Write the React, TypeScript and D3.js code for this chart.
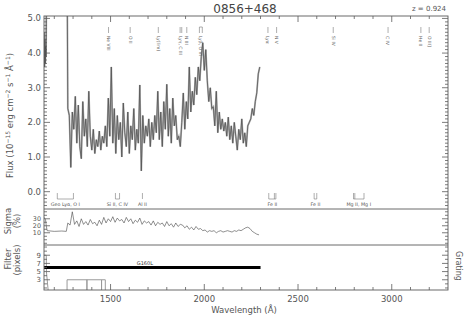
import React from "react";
import * as d3 from "d3";

// ---------- DATA ----------
const title = "0856+468";
const redshift = 0.924;

// flux before the main grid (short-wavelength edge, mostly off scale)
const fluxHeadWave = [1146, 1148, 1150, 1152, 1154, 1156, 1158, 1170, 1216, 1260, 1266];
const fluxHeadValue = [4.6, 3.6, 4.4, 3.7, 4.2, 3.9, 5.6, 30, 90, 30, 9];

// main flux grid: 1272 Å, every 8 Å
const fluxGridStart = 1272;
const fluxGridStep = 8;
const fluxValues = [
  2.4, 2.2, 0.7, 2.3, 1.8, 2.75, 1.4, 2.5, 1.3, 0.95, 2.6, 1.6, 2.1,
  1.3, 2.9,
  1.6, 1.2, 1.8, 1.1, 1.5, 1.3, 1.75, 1.2, 1.6, 1.4, 1.9, 1.3,
  2.7, 1.6, 3.6, 1.4, 2.4, 1.1, 2.2,
  1.5, 2.0, 1.0, 2.56, 1.7, 1.3, 2.3, 1.1, 1.9, 1.5, 2.4, 1.2, 1.8, 1.4, 3.08,
  0.6, 2.2, 1.4, 1.9, 1.6, 2.1, 1.3, 2.0, 1.5, 2.2, 1.7,
  2.9, 1.5, 2.3, 1.3, 2.6, 1.8, 3.1, 1.6, 2.4, 1.4, 2.7, 1.9, 2.2, 1.5,
  1.6, 1.3, 2.0,
  2.85, 1.8, 2.6, 2.1, 3.6, 2.3, 2.9, 2.5, 3.3, 2.8,
  3.6, 3.2, 3.9, 4.3, 3.5, 4.1,
  3.2, 2.6, 3.0, 2.4,
  2.45, 1.9, 2.9, 1.7, 2.3, 1.8, 2.1, 1.75, 2.0,
  1.6, 2.15, 1.5, 1.9, 1.4, 2.0, 1.6, 1.2, 1.8, 1.5, 2.1, 1.4, 1.7, 1.3, 1.9, 2.0,
  2.1, 2.4, 2.2, 2.6, 2.85, 3.4, 3.6,
];

// sigma (%)
const sigmaHeadWave = [1146, 1150, 1153, 1157, 1162, 1200, 1240, 1264];
const sigmaHeadValue = [32, 30, 29, 20, 13, 12, 12.5, 12];
const sigmaGridStart = 1272;
const sigmaGridStep = 12;
const sigmaValues = [
  24, 21, 40, 22,
  27, 19, 30, 22, 26, 21, 29, 23, 25, 20, 28, 22, 32, 24, 30, 26, 33, 25, 31, 27, 29, 24, 32, 26, 30, 23, 28, 25, 31, 22, 27, 24,
  26, 21, 27, 20, 25, 22, 24, 19, 26, 20, 23, 18, 24, 19, 22,
  21, 17, 20, 15, 18, 14, 19, 15, 16, 13,
  14, 11, 13, 12, 13, 10, 12, 13, 11, 12, 13, 12, 11, 13, 12, 14, 13, 15, 17,
  18, 16, 12, 10, 8, 7,
];

// filter width (pixels)
const filterWave = [1145, 1157, 1158, 1168, 1268, 1268, 1374, 1374, 1374, 1452, 1452, 1452, 1472, 1472];
const filterValue = [9, 9, 5, 0, 0, 3, 3, 0, 3, 3, 0, 3, 3, 0];

// grating
const gratingName = "G160L";
const gratingRange = [1145, 2300];
const gratingValue = 6;

// emission line IDs (rest wavelengths)
const emissionLabels = ["Ne VIII", "O II", "Ly(lim)", "Lyγ, C III", "N III", "Lyβ, O VI", "Lyα", "N V", "Si IV", "C IV", "He II", "O III]"];
const emissionRest = [[774], [834], [912], [972.5, 977], [991], [1026, 1034], [1216], [1240], [1397], [1549], [1640], [1663]];

// absorption line IDs (observed wavelengths)
const absorptionLabels = ["Geo Lyα, O I", "Si II, C IV", "Al II", "Fe II", "Fe II", "Mg II, Mg I"];
const absorptionWave = [[1216, 1302], [1526, 1548], [1670], [2344, 2374, 2382], [2586, 2600], [2796, 2803, 2852]];

// axis ticks
const xMajor = [1500, 2000, 2500, 3000];
const fluxMajor = [0, 1, 2, 3, 4, 5];
const sigmaMajor = [10, 20, 30];
const filterMajor = [3, 5, 7, 9];

// ---------- LAYOUT ----------
const W = 468, H = 318;
const L = 44, R = 448;
const T1 = 16, B1 = 209, B2 = 245, B3 = 290;
const axisColor = "#5a5a5a";
const textColor = "#555";
const font = "DejaVu Sans, sans-serif";

export default function App() {
  const x = d3.scaleLinear().domain([1145, 3300]).range([L, R]);
  const yF = d3.scaleLinear().domain([-0.5, 5.07]).range([B1, T1]);
  const yS = d3.scaleLinear().domain([-7.5, 44]).range([B2, B1]);
  const yP = d3.scaleLinear().domain([0.5, 11.5]).range([B3, B2]);

  const fluxWave = [...fluxHeadWave, ...fluxValues.map((_, i) => fluxGridStart + i * fluxGridStep)];
  const fluxAll = [...fluxHeadValue, ...fluxValues];
  const fluxPts: [number, number][] = fluxWave.map((w, i) => [w, fluxAll[i]]);

  const sigWave = [...sigmaHeadWave, ...sigmaValues.map((_, i) => sigmaGridStart + i * sigmaGridStep)];
  const sigAll = [...sigmaHeadValue, ...sigmaValues];
  const sigPts: [number, number][] = sigWave.map((w, i) => [w, sigAll[i]]);

  const filPts: [number, number][] = filterWave.map((w, i) => [w, filterValue[i]]);

  const lineF = d3.line<[number, number]>().x(d => x(d[0])).y(d => yF(d[1]));
  const lineS = d3.line<[number, number]>().x(d => x(d[0])).y(d => yS(d[1]));
  const lineP = d3.line<[number, number]>().x(d => x(d[0])).y(d => yP(d[1]));

  const xMinor = d3.range(1200, 3300, 100).filter(v => !xMajor.includes(v));
  const fluxMinor = d3.range(-4, 51, 1).map(v => v / 10).filter(v => !fluxMajor.includes(v));
  const sigmaMinor = d3.range(-5, 45, 5).filter(v => !sigmaMajor.includes(v));
  const filterMinor = d3.range(1, 12, 1).filter(v => !filterMajor.includes(v));

  const vTicks = (scale: any, major: number[], minor: number[], key: string) => (
    <g key={key} stroke={axisColor} strokeWidth={0.8}>
      {major.map(v => (
        <g key={"M" + v}>
          <line x1={L} x2={L + 6} y1={scale(v)} y2={scale(v)} />
          <line x1={R} x2={R - 6} y1={scale(v)} y2={scale(v)} />
        </g>
      ))}
      {minor.map(v => (
        <g key={"m" + v}>
          <line x1={L} x2={L + 3} y1={scale(v)} y2={scale(v)} />
          <line x1={R} x2={R - 3} y1={scale(v)} y2={scale(v)} />
        </g>
      ))}
    </g>
  );

  const z1 = 1 + redshift;

  return (
    <svg width={W} height={H} style={{ position: "absolute", left: 0, top: 0, background: "#fff" }} fontFamily={font}>
      <defs>
        <clipPath id="c1"><rect x={L} y={T1} width={R - L} height={B1 - T1} /></clipPath>
        <clipPath id="c2"><rect x={L} y={B1} width={R - L} height={B2 - B1} /></clipPath>
        <clipPath id="c3"><rect x={L} y={B2} width={R - L} height={B3 - B2} /></clipPath>
      </defs>

      {/* title */}
      <text x={245} y={12.5} textAnchor="middle" fontSize={12} fill="#444">{title}</text>
      <text x={446} y={11} textAnchor="end" fontSize={7} fill={textColor}>{`z  =  ${redshift.toFixed(3)}`}</text>

      {/* flux spectrum */}
      <g clipPath="url(#c1)">
        <path d={lineF(fluxPts) || ""} fill="none" stroke="#b0b0b0" strokeWidth={1.8} />
        <path d={lineF(fluxPts) || ""} fill="none" stroke="#4a4a4a" strokeWidth={0.7} />
      </g>

      {/* sigma */}
      <g clipPath="url(#c2)">
        <path d={lineS(sigPts) || ""} fill="none" stroke="#444" strokeWidth={0.6} />
      </g>

      {/* filter */}
      <g clipPath="url(#c3)">
        <path d={lineP(filPts) || ""} fill="none" stroke="#999" strokeWidth={1} />
        <line x1={x(gratingRange[0])} x2={x(gratingRange[1])} y1={yP(gratingValue)} y2={yP(gratingValue)} stroke="#000" strokeWidth={3} />
      </g>
      <text x={x(gratingRange[0]) + 109} y={yP(gratingValue) - 2.5} textAnchor="end" fontSize={5} fill="#333">{gratingName}</text>

      {/* frames */}
      <g fill="none" stroke={axisColor} strokeWidth={0.9}>
        <rect x={L} y={T1} width={R - L} height={B3 - T1} />
        <line x1={L} x2={R} y1={B1} y2={B1} />
        <line x1={L} x2={R} y1={B2} y2={B2} />
      </g>

      {/* x ticks */}
      <g stroke={axisColor} strokeWidth={0.8}>
        {xMajor.map(v => (
          <g key={"xM" + v}>
            <line x1={x(v)} x2={x(v)} y1={T1} y2={T1 + 6} />
            <line x1={x(v)} x2={x(v)} y1={B3} y2={B3 - 6} />
          </g>
        ))}
        {xMinor.map(v => (
          <g key={"xm" + v}>
            <line x1={x(v)} x2={x(v)} y1={T1} y2={T1 + 3} />
            <line x1={x(v)} x2={x(v)} y1={B3} y2={B3 - 3} />
          </g>
        ))}
      </g>
      {xMajor.map(v => (
        <text key={"xl" + v} x={x(v)} y={302} textAnchor="middle" fontSize={8.5} fill={textColor}>{v}</text>
      ))}
      <text x={244} y={313} textAnchor="middle" fontSize={8.5} fill={textColor}>Wavelength (Å)</text>

      {/* y ticks */}
      {vTicks(yF, fluxMajor, fluxMinor, "tf")}
      {vTicks(yS, sigmaMajor, sigmaMinor, "ts")}
      {vTicks(yP, filterMajor, filterMinor, "tp")}
      {fluxMajor.map(v => (
        <text key={"fl" + v} x={41} y={yF(v) + 3} textAnchor="end" fontSize={8.5} fill={textColor}>{v.toFixed(1)}</text>
      ))}
      {sigmaMajor.map(v => (
        <text key={"sl" + v} x={41} y={yS(v) + 2.3} textAnchor="end" fontSize={6.4} fill={textColor}>{v}</text>
      ))}
      {filterMajor.map(v => (
        <text key={"pl" + v} x={41} y={yP(v) + 2.4} textAnchor="end" fontSize={7} fill={textColor}>{v}</text>
      ))}

      {/* y labels */}
      <text transform={`translate(13,${(T1 + B1) / 2 + 3}) rotate(-90)`} textAnchor="middle" fontSize={8.5} fill={textColor}>
        Flux (10<tspan dy={-3} fontSize={6}>−15</tspan><tspan dy={3}> erg cm</tspan><tspan dy={-3} fontSize={6}>−2</tspan><tspan dy={3}> s</tspan><tspan dy={-3} fontSize={6}>−1</tspan><tspan dy={3}> Å</tspan><tspan dy={-3} fontSize={6}>−1</tspan><tspan dy={3}>)</tspan>
      </text>
      <text transform={`translate(11,221) rotate(-90)`} textAnchor="middle" fontSize={8.5} fill={textColor}>Sigma</text>
      <text transform={`translate(20,221) rotate(-90)`} textAnchor="middle" fontSize={8.5} fill={textColor}>(%)</text>
      <text transform={`translate(11,259) rotate(-90)`} textAnchor="middle" fontSize={8.5} fill={textColor}>Filter</text>
      <text transform={`translate(20,260) rotate(-90)`} textAnchor="middle" fontSize={8.5} fill={textColor}>(pixels)</text>
      <text transform={`translate(456,266) rotate(90)`} textAnchor="middle" fontSize={8} fill={textColor}>Grating</text>

      {/* emission line IDs */}
      {emissionLabels.map((lab, i) => {
        const xs = emissionRest[i].map(r => x(r * z1));
        const xc = d3.mean(xs) as number;
        return (
          <g key={"em" + i} stroke="#777" strokeWidth={0.6}>
            {xs.map((xx, j) => <line key={j} x1={xx} x2={xx} y1={27} y2={33} />)}
            {xs.length > 1 && Math.abs(xs[1] - xs[0]) > 2 ? <line x1={xs[0]} x2={xs[xs.length - 1]} y1={27} y2={27} /> : null}
            <text stroke="none" transform={`translate(${xc},36) rotate(90)`} dy="0.35em" fontSize={4.5} fill="#666">{lab}</text>
          </g>
        );
      })}

      {/* absorption line IDs */}
      {absorptionLabels.map((lab, i) => {
        const xs = absorptionWave[i].map(w => x(w));
        const x0 = d3.min(xs) as number, x1 = d3.max(xs) as number;
        return (
          <g key={"ab" + i} stroke="#777" strokeWidth={0.6}>
            {xs.map((xx, j) => <line key={j} x1={xx} x2={xx} y1={193} y2={199} />)}
            {x1 - x0 > 0.5 ? <line x1={x0} x2={x1} y1={199} y2={199} /> : null}
            <text stroke="none" x={(x0 + x1) / 2} y={206} textAnchor="middle" fontSize={4.8} fill="#555">{lab}</text>
          </g>
        );
      })}
    </svg>
  );
}
